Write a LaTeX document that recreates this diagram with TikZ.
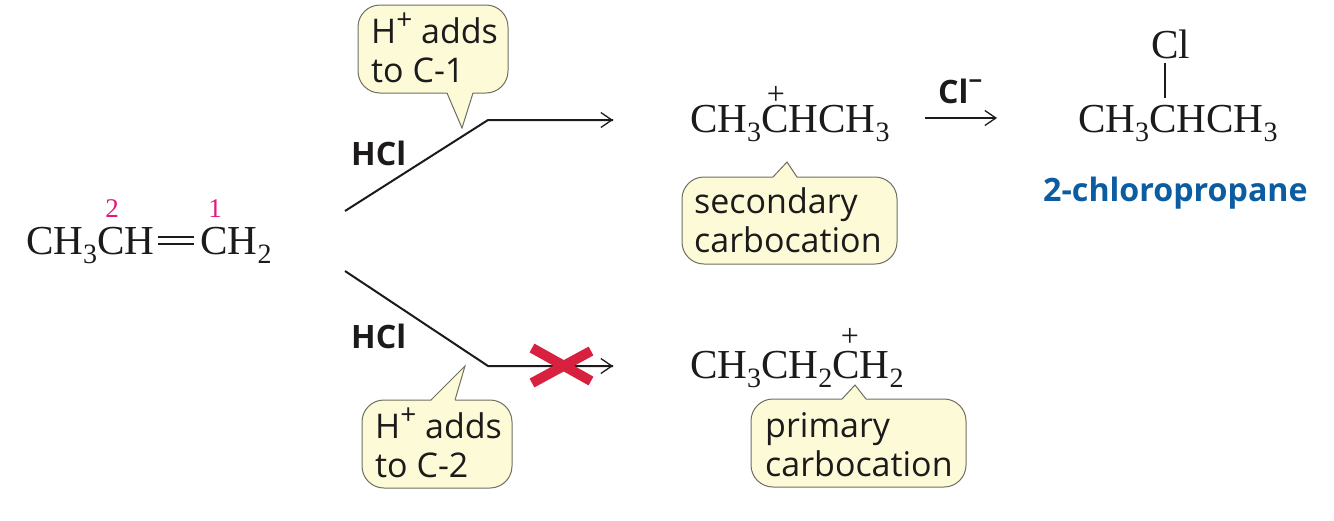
\documentclass[tikz,border=0pt]{standalone}
\usepackage{fontspec}
\setmainfont{Liberation Serif}
\newfontfamily\lblfont{Open Sans}
\usetikzlibrary{arrows.meta}
\definecolor{cbfill}{HTML}{FDFBD7}
\definecolor{cbline}{HTML}{6E6E62}
\definecolor{numcol}{HTML}{E5177B}
\definecolor{xred}{HTML}{D7213F}
\definecolor{nameblue}{HTML}{0B5CA0}
\definecolor{ink}{HTML}{1C1A1A}
\newcommand{\chsub}[1]{\raisebox{-9pt}{\fontsize{28}{28}\selectfont #1}}
\newcommand{\lblup}[1]{\raisebox{14pt}{\fontsize{28}{28}\selectfont #1}}
\tikzset{
  x=1pt,y=-1pt,
  chem/.style={anchor=base west,inner sep=0pt,outer sep=0pt,text=ink,text height=27pt,text depth=9pt,font=\fontsize{41.2}{41}\selectfont},
  num/.style={anchor=base,inner sep=0pt,text=numcol,font=\fontsize{27}{27}\selectfont},
  chg/.style={anchor=center,inner sep=0pt,text=ink,font=\fontsize{32}{32}\selectfont},
  lbl/.style={anchor=base west,inner sep=0pt,text=ink,font=\lblfont\fontsize{34}{38}\selectfont},
  boldlbl/.style={anchor=base west,inner sep=0pt,text=ink,font=\lblfont\bfseries\fontsize{32.2}{32}\selectfont},
  callout/.style={fill=cbfill,draw=cbline,line width=1pt,rounded corners=22},
  tailfill/.style={fill=cbfill,draw=none},
  tailedge/.style={draw=cbline,line width=1pt,line join=miter,fill=none},
  thickline/.style={draw=ink,line width=2pt,line join=miter},
  rx/.style={draw=ink,line width=1.6pt,-{Straight Barb[length=11pt,width=15pt,line width=1.3pt]}},
  bond/.style={draw=ink,line width=1.5pt},
  crossarm/.style={draw=xred,line width=10pt},
}
\begin{document}
\begin{tikzpicture}
\useasboundingbox (0,0) rectangle (1334,520);
% callout bubbles
\draw[callout] (358,5) rectangle (508,93);
\fill[tailfill] (447,92) -- (462,128) -- (473,92) -- cycle;
\draw[tailedge] (447,93) -- (462,128) -- (473,93);
\draw[callout] (362,400) rectangle (512,488);
\fill[tailfill] (455,401) -- (465,366) -- (431,401) -- cycle;
\draw[tailedge] (455,400) -- (465,366) -- (431,400);
\draw[callout] (682,177) rectangle (897,264);
\fill[tailfill] (797,178) -- (787,162) -- (773,178) -- cycle;
\draw[tailedge] (797,177) -- (787,162) -- (773,177);
\draw[callout] (751,399) rectangle (966,487);
\fill[tailfill] (866,400) -- (855,385) -- (842,400) -- cycle;
\draw[tailedge] (866,399) -- (855,385) -- (842,399);
% callout texts
\node[lbl] (t1a) at (371,43) {H\lblup{+} adds};
\node[lbl] (t1b) at (371,82) {to C-1};
\node[lbl] (t2a) at (375,438) {H\lblup{+} adds};
\node[lbl] (t2b) at (375,477) {to C-2};
\node[lbl] (t3a) at (694,213) {secondary};
\node[lbl] (t3b) at (694,252) {carbocation};
\node[lbl] (t4a) at (765,437) {primary};
\node[lbl] (t4b) at (765,476) {carbocation};
% reactant
\node[chem] (reactL) at (26,254) {CH\chsub{3}CH};
\node[chem] (reactR) at (200.5,254) {CH\chsub{2}};
\coordinate (dA1) at (158,237);
\coordinate (dA2) at (194,237);
\coordinate (dB1) at (158,244);
\coordinate (dB2) at (194,244);
\draw[bond] (dA1) -- (dA2);
\draw[bond] (dB1) -- (dB2);
\node[num] (n2) at (112,217) {2};
\node[num] (n1) at (215,217) {1};
% pathways
\coordinate (u0) at (345,211);
\coordinate (u1) at (488,120);
\coordinate (u2) at (613,120);
\coordinate (l0) at (345,271);
\coordinate (l1) at (488,366);
\coordinate (l2) at (613,366);
\draw[thickline] (u0) -- (u1) -- (u2);
\draw[thickline] (l0) -- (l1) -- (l2);
\draw[rx] (u1) -- (u2);
\draw[rx] (l1) -- (l2);
\node[boldlbl] (hcl1) at (351,165) {HCl};
\node[boldlbl] (hcl2) at (351,348) {HCl};
% blocked mark
\coordinate (xa) at (532,348);
\coordinate (xb) at (591,381);
\coordinate (xc) at (532,383);
\coordinate (xd) at (591,351);
\draw[crossarm] (xa) -- (xb);
\draw[crossarm] (xc) -- (xd);
% products
\node[chem] (sec) at (690,132) {CH\chsub{3}CHCH\chsub{3}};
\node[chg] (secp) at (776,95) {+};
\node[chem] (prim) at (690,378) {CH\chsub{3}CH\chsub{2}CH\chsub{2}};
\node[chg] (primp) at (850,337) {+};
\coordinate (c0) at (925,118);
\coordinate (c1) at (997,118);
\draw[rx] (c0) -- (c1);
\node[boldlbl] (clm) at (938,103) {Cl\lblup{\fontsize{24}{24}\selectfont −}};
\node[chem] (prod) at (1078,132) {CH\chsub{3}CHCH\chsub{3}};
\node[chem] (cl) at (1151,58) {Cl};
\coordinate (b0) at (1165,63);
\coordinate (b1) at (1165,98);
\draw[bond] (b0) -- (b1);
\node[boldlbl,text=nameblue] (name) at (1043,201) {2-chloropropane};
\end{tikzpicture}
\end{document}
